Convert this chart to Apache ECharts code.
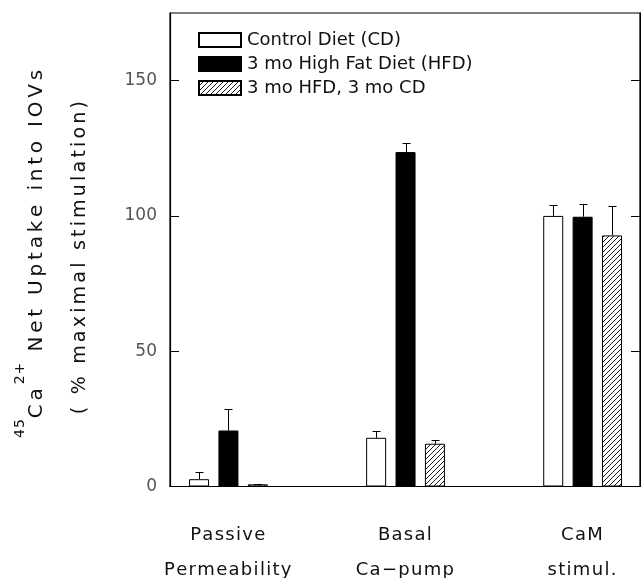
<!DOCTYPE html>
<html>
<head>
<meta charset="utf-8">
<script src="https://cdn.jsdelivr.net/npm/echarts@6/dist/echarts.min.js"></script>
<style>
  html, body { margin: 0; padding: 0; background: #fff; }
  #chart { width: 641px; height: 578px; }
</style>
</head>
<body>
<div id="chart"></div>
<script>
// categories along the x axis (group positions 1, 2, 3)
const categories = ['Passive\nPermeability', 'Basal\nCa\u2212pump', 'CaM\nstimul.'];
const seriesNames = ['Control Diet (CD)', '3 mo High Fat Diet (HFD)', '3 mo HFD, 3 mo CD'];

// % maximal stimulation
const cdValues = [2.7, 18.0, 100.0];
const cdErrors = [2.8, 2.6, 4.0];
const hfdValues = [20.7, 123.6, 99.7];
const hfdErrors = [7.8, 3.5, 4.7];
const recoveryValues = [0.8, 15.8, 92.8];
const recoveryErrors = [0.3, 1.4, 11.0];

const yTicks = [0, 50, 100, 150];

const BAR_WIDTH = 20;
const BAR_GAP_PX = 9.4;
const FONT = '"DejaVu Sans", sans-serif';

// wide letter spacing like the original typeface: one rich token per char
function spaced(text, style) {
  return text.split('\n').map(function (line) {
    return line.split('').map(function (ch) { return '{' + style + '|' + ch + '}'; }).join('');
  }).join('\n');
}

// diagonal hatch fill
function makeHatch() {
  const c = document.createElement('canvas');
  c.width = 5; c.height = 5;
  const ctx = c.getContext('2d');
  ctx.fillStyle = '#fff';
  ctx.fillRect(0, 0, 5, 5);
  ctx.strokeStyle = '#000';
  ctx.lineWidth = 0.9;
  ctx.beginPath();
  ctx.moveTo(0, 5); ctx.lineTo(5, 0);
  ctx.moveTo(-1, 1); ctx.lineTo(1, -1);
  ctx.moveTo(4, 6); ctx.lineTo(6, 4);
  ctx.stroke();
  return c;
}

const xPos = categories.map((_, i) => i + 1);

function barSeries(name, values, itemStyle) {
  return {
    name: name,
    type: 'bar',
    barWidth: BAR_WIDTH,
    barGap: (BAR_GAP_PX / BAR_WIDTH * 100) + '%',
    data: values.map((v, i) => [xPos[i], v]),
    itemStyle: itemStyle
  };
}

function errorSeries(values, errors, slot) {
  return {
    type: 'custom',
    silent: true,
    z: 3,
    data: values.map((v, i) => [xPos[i], v, errors[i]]),
    renderItem: function (params, api) {
      const x = api.value(0), v = api.value(1), e = api.value(2);
      const base = api.coord([x, v]);
      const top = api.coord([x, v + e]);
      const cx = Math.round(base[0] + (slot - 1) * (BAR_WIDTH + BAR_GAP_PX)) + 0.5;
      const ty = Math.round(top[1]) + 0.5;
      return {
        type: 'group',
        children: [
          { type: 'line', shape: { x1: cx, y1: base[1], x2: cx, y2: ty }, style: { stroke: '#000', lineWidth: 1 } },
          { type: 'line', shape: { x1: cx - 4, y1: ty, x2: cx + 4, y2: ty }, style: { stroke: '#000', lineWidth: 1 } }
        ]
      };
    }
  };
}

const chart = echarts.init(document.getElementById('chart'));
const hatch = makeHatch();

chart.setOption({
  animation: false,
  backgroundColor: '#fff',
  grid: {
    left: 170, right: 1, top: 13, bottom: 91.5,
    outerBoundsMode: 'none',
    show: true, borderColor: '#000', borderWidth: 1.2, backgroundColor: 'transparent'
  },
  legend: {
    orient: 'vertical',
    left: 193, top: 26,
    itemWidth: 42, itemHeight: 14, itemGap: 6,
    icon: 'rect',
    data: seriesNames,
    textStyle: { fontFamily: FONT, fontSize: 18, lineHeight: 18, color: '#111', padding: [0, 0, 0, 1] }
  },
  xAxis: {
    type: 'value',
    min: 0.67, max: 3.324,
    splitLine: { show: false },
    axisTick: { show: false },
    axisLine: { lineStyle: { color: '#000', width: 1.2 } },
    axisLabel: {
      customValues: xPos,
      formatter: function (v) { return spaced(categories[Math.round(v) - 1], 'c'); },
      margin: 31,
      rich: {
        c: { fontFamily: FONT, fontSize: 18, lineHeight: 35, color: '#111', padding: [0, 1.3, 0, 0] }
      }
    }
  },
  yAxis: [{
    type: 'value',
    min: 0, max: 175,
    splitLine: { show: false },
    axisLine: { show: true, lineStyle: { color: '#000', width: 1.2 } },
    axisTick: { show: true, inside: true, length: 9, customValues: yTicks, lineStyle: { color: '#000' } },
    axisLabel: { customValues: yTicks, fontFamily: FONT, fontSize: 17, color: '#555', margin: 13 }
  }, {
    type: 'value',
    position: 'right',
    min: 0, max: 175,
    splitLine: { show: false },
    axisLine: { show: true, lineStyle: { color: '#000', width: 1.2 } },
    axisTick: { show: true, inside: true, length: 9, customValues: yTicks, lineStyle: { color: '#000' } },
    axisLabel: { show: false }
  }],
  graphic: [{
    type: 'text',
    x: 34, y: 252,
    rotation: Math.PI / 2,
    style: {
      text: spaced('45', 'sup') + spaced('Ca', 'main') + spaced('2+', 'sup') + spaced(' Net Uptake into IOVs', 'main'),
      align: 'center', verticalAlign: 'middle',
      rich: {
        main: { fontFamily: FONT, fontSize: 20, lineHeight: 26, verticalAlign: 'bottom', fill: '#111', padding: [0, 3.8, 0, 0] },
        sup: { fontFamily: FONT, fontSize: 14, lineHeight: 14, verticalAlign: 'bottom', padding: [0, 1, 20, 0], fill: '#111' }
      }
    }
  }, {
    type: 'text',
    x: 80, y: 256,
    rotation: Math.PI / 2,
    style: {
      text: spaced('( % maximal stimulation)', 's'),
      align: 'center', verticalAlign: 'middle',
      rich: {
        s: { fontFamily: FONT, fontSize: 19, fill: '#111', padding: [0, 3.2, 0, 0] }
      }
    }
  }],
  series: [
    barSeries(seriesNames[0], cdValues, { color: '#fff', borderColor: '#000', borderWidth: 1 }),
    barSeries(seriesNames[1], hfdValues, { color: '#000', borderColor: '#000', borderWidth: 1 }),
    barSeries(seriesNames[2], recoveryValues, { color: { image: hatch, repeat: 'repeat' }, borderColor: '#000', borderWidth: 1 }),
    errorSeries(cdValues, cdErrors, 0),
    errorSeries(hfdValues, hfdErrors, 1),
    errorSeries(recoveryValues, recoveryErrors, 2)
  ]
});
</script>
</body>
</html>
